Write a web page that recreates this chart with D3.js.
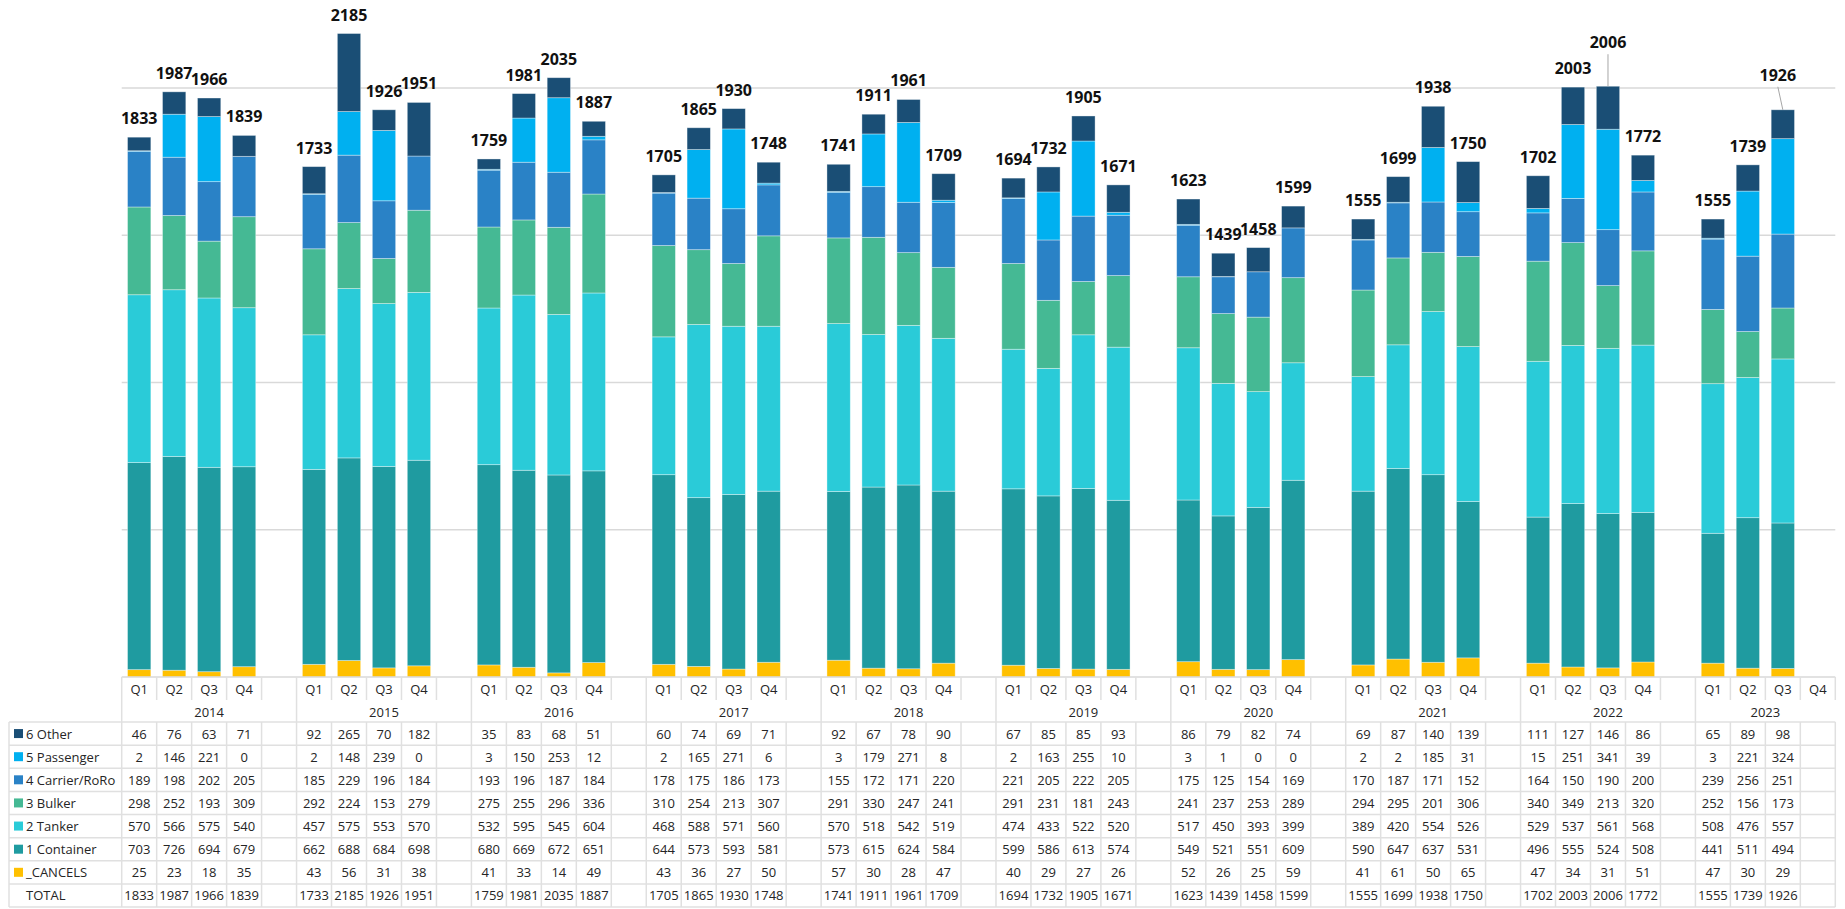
<!DOCTYPE html>
<html>
<head>
<meta charset="utf-8">
<script src="https://cdn.jsdelivr.net/npm/d3@7"></script>
<style>
body { margin: 0; background: #fff; }
svg { display: block; font-family: "Segoe UI", "Open Sans", sans-serif; }
</style>
</head>
<body>
<svg id="chart" width="1845" height="909"></svg>
<script>
// data, one value per quarter from 2014 Q1 to 2023 Q3
var years = ["2014", "2015", "2016", "2017", "2018", "2019", "2020", "2021", "2022", "2023"];
var quarters = ["Q1", "Q2", "Q3", "Q4"];
var seriesNames = ["_CANCELS", "1 Container", "2 Tanker", "3 Bulker", "4 Carrier/RoRo", "5 Passenger", "6 Other"];
var seriesColors = ["#ffc000", "#1f9ba0", "#2acbd8", "#45b994", "#2a82c6", "#00b0f0", "#1a4e75"];

var other = [46, 76, 63, 71, 92, 265, 70, 182, 35, 83, 68, 51, 60, 74, 69, 71, 92, 67, 78, 90,
    67, 85, 85, 93, 86, 79, 82, 74, 69, 87, 140, 139, 111, 127, 146, 86, 65, 89, 98];
var passenger = [2, 146, 221, 0, 2, 148, 239, 0, 3, 150, 253, 12, 2, 165, 271, 6, 3, 179, 271, 8,
    2, 163, 255, 10, 3, 1, 0, 0, 2, 2, 185, 31, 15, 251, 341, 39, 3, 221, 324];
var carrier = [189, 198, 202, 205, 185, 229, 196, 184, 193, 196, 187, 184, 178, 175, 186, 173, 155, 172, 171, 220,
    221, 205, 222, 205, 175, 125, 154, 169, 170, 187, 171, 152, 164, 150, 190, 200, 239, 256, 251];
var bulker = [298, 252, 193, 309, 292, 224, 153, 279, 275, 255, 296, 336, 310, 254, 213, 307, 291, 330, 247, 241,
    291, 231, 181, 243, 241, 237, 253, 289, 294, 295, 201, 306, 340, 349, 213, 320, 252, 156, 173];
var tanker = [570, 566, 575, 540, 457, 575, 553, 570, 532, 595, 545, 604, 468, 588, 571, 560, 570, 518, 542, 519,
    474, 433, 522, 520, 517, 450, 393, 399, 389, 420, 554, 526, 529, 537, 561, 568, 508, 476, 557];
var container = [703, 726, 694, 679, 662, 688, 684, 698, 680, 669, 672, 651, 644, 573, 593, 581, 573, 615, 624, 584,
    599, 586, 613, 574, 549, 521, 551, 609, 590, 647, 637, 531, 496, 555, 524, 508, 441, 511, 494];
var cancels = [25, 23, 18, 35, 43, 56, 31, 38, 41, 33, 14, 49, 43, 36, 27, 50, 57, 30, 28, 47,
    40, 29, 27, 26, 52, 26, 25, 59, 41, 61, 50, 65, 47, 34, 31, 51, 47, 30, 29];
var totals = [1833, 1987, 1966, 1839, 1733, 2185, 1926, 1951, 1759, 1981, 2035, 1887, 1705, 1865, 1930, 1748,
    1741, 1911, 1961, 1709, 1694, 1732, 1905, 1671, 1623, 1439, 1458, 1599, 1555, 1699, 1938, 1750,
    1702, 2003, 2006, 1772, 1555, 1739, 1926];
var yTicks = [0, 500, 1000, 1500, 2000];

var seriesValues = {
    "_CANCELS": cancels, "1 Container": container, "2 Tanker": tanker, "3 Bulker": bulker,
    "4 Carrier/RoRo": carrier, "5 Passenger": passenger, "6 Other": other
};

/* Build the columns: 4 quarters per year, an empty column between years */
var slots = [];
years.forEach(function(yr, i) {
    quarters.forEach(function(q, j) {
        var idx = i * 4 + j;
        var rec = { key: yr + "-" + q, year: yr, q: q, gap: false, has: idx < totals.length, total: totals[idx] };
        seriesNames.forEach(function(s) { rec[s] = rec.has ? seriesValues[s][idx] : 0; });
        slots.push(rec);
    });
    if (i < years.length - 1) slots.push({ key: yr + "-gap", year: yr, gap: true, has: false });
});
var records = slots.filter(function(d) { return d.has; });

/* Layout */
var left = 121.7, right = 1835.3, base = 677;
var tableLeft = 9, rowTop = 722, rowH = 23.125;

var svg = d3.select("#chart");
var x = d3.scaleBand().domain(slots.map(function(d) { return d.key; })).range([left, right]);
var y = d3.scaleLinear().domain([0, 2000]).range([base, 88]);
var bw = x.bandwidth() * 0.667;
var bx = function(k) { return x(k) + (x.bandwidth() - bw) / 2; };

/* Gridlines */
svg.append("g").selectAll("line")
    .data(yTicks.filter(function(t) { return t > 0; }))
    .enter().append("line")
    .attr("x1", left).attr("x2", right)
    .attr("y1", function(d) { return y(d); }).attr("y2", function(d) { return y(d); })
    .attr("stroke", "#d9d9d9").attr("stroke-width", 1.5);

/* Stacked bars */
var stack = d3.stack().keys(seriesNames)(records);
svg.append("g").selectAll("g")
    .data(stack)
    .enter().append("g")
    .attr("fill", function(d, i) { return seriesColors[i]; })
    .selectAll("rect")
    .data(function(d) { return d; })
    .enter().append("rect")
    .attr("x", function(d) { return bx(d.data.key); })
    .attr("width", bw)
    .attr("y", function(d) { return y(d[1]); })
    .attr("height", function(d) { return Math.max(0, y(d[0]) - y(d[1])); })
    .attr("stroke", "rgba(255,255,255,0.45)")
    .attr("stroke-width", 0.8);

/* Total labels, two of them are pushed up with a leader line */
var labelShift = { "2022-Q3": [0, -25], "2023-Q3": [-5, -16] };
var lab = svg.append("g");
records.forEach(function(d) {
    var cx = x(d.key) + x.bandwidth() / 2, top = y(d.total);
    var sh = labelShift[d.key] || [0, 0];
    lab.append("text")
        .attr("x", cx + sh[0]).attr("y", top - 13 + sh[1])
        .attr("text-anchor", "middle")
        .style("font-size", "16px").style("font-weight", 700).attr("fill", "#111")
        .text(d.total);
    if (labelShift[d.key]) {
        lab.append("line")
            .attr("x1", cx + sh[0]).attr("y1", top - 19 + sh[1] + 12)
            .attr("x2", cx).attr("y2", top)
            .attr("stroke", "#a6a6a6").attr("stroke-width", 1);
    }
});

/* Header: quarter row and year row */
var grid = "#e0e0e0";
var head = svg.append("g").style("font-size", "13px").attr("fill", "#252525");
head.append("line").attr("x1", left).attr("x2", right).attr("y1", base).attr("y2", base)
    .attr("stroke", "#d9d9d9").attr("stroke-width", 1.5);

slots.forEach(function(d, i) {
    var x0 = x(d.key);
    var groupStart = i === 0 || slots[i - 1].gap;
    head.append("line").attr("x1", x0).attr("x2", x0)
        .attr("y1", base).attr("y2", groupStart ? rowTop : 700)
        .attr("stroke", grid).attr("stroke-width", 1.5);
    if (!d.gap) {
        head.append("text").attr("x", x0 + x.bandwidth() / 2).attr("y", 689)
            .attr("text-anchor", "middle").attr("dominant-baseline", "central").text(d.q);
    }
});
head.append("line").attr("x1", right).attr("x2", right).attr("y1", base).attr("y2", 700)
    .attr("stroke", grid).attr("stroke-width", 1.5);

years.forEach(function(yr, i) {
    var cols = slots.filter(function(d) { return d.year === yr; });
    var x0 = x(cols[0].key), x1 = x(cols[cols.length - 1].key) + x.bandwidth();
    head.append("text").attr("x", (x0 + x1) / 2).attr("y", 711.7)
        .attr("text-anchor", "middle").attr("dominant-baseline", "central").text(yr);
});

/* Data table */
var tableRows = seriesNames.slice().reverse().concat(["TOTAL"]);
var tbl = svg.append("g").style("font-size", "13px").attr("fill", "#252525");

tableRows.forEach(function(name, r) {
    var cy = rowTop + rowH * (r + 0.5);
    var ci = seriesNames.indexOf(name);
    if (ci >= 0) {
        tbl.append("rect").attr("x", 14).attr("y", cy - 4.5).attr("width", 9).attr("height", 9)
            .attr("fill", seriesColors[ci]);
    }
    tbl.append("text").attr("x", 26).attr("y", cy).attr("dominant-baseline", "central").text(name);
    slots.forEach(function(d) {
        if (!d.has) return;
        tbl.append("text")
            .attr("x", x(d.key) + x.bandwidth() / 2).attr("y", cy)
            .attr("text-anchor", "middle").attr("dominant-baseline", "central")
            .text(name === "TOTAL" ? d.total : d[name]);
    });
});

for (var r = 0; r <= tableRows.length; r++) {
    tbl.append("line").attr("x1", tableLeft).attr("x2", right)
        .attr("y1", rowTop + r * rowH).attr("y2", rowTop + r * rowH)
        .attr("stroke", grid).attr("stroke-width", 1.5);
}
var vx = [tableLeft].concat(slots.map(function(d) { return x(d.key); }), [right]);
vx.forEach(function(v) {
    tbl.append("line").attr("x1", v).attr("x2", v)
        .attr("y1", rowTop).attr("y2", rowTop + tableRows.length * rowH)
        .attr("stroke", grid).attr("stroke-width", 1.5);
});
</script>
</body>
</html>
